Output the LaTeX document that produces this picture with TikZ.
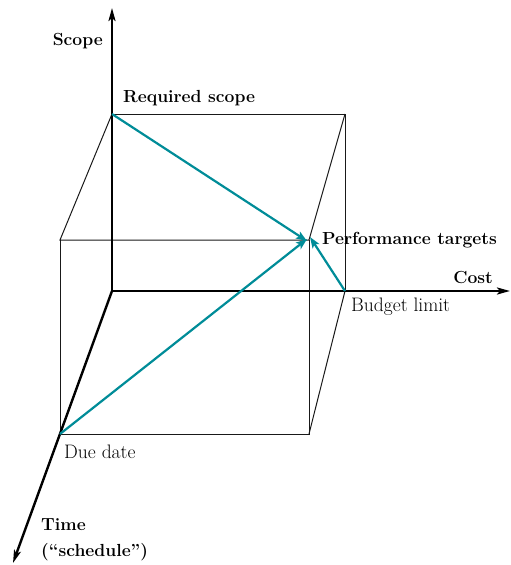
\documentclass[tikz,border=0pt]{standalone}
\usepackage{fontspec}
\usetikzlibrary{arrows.meta}
\definecolor{tealc}{RGB}{0,140,152}
\begin{document}
\begin{tikzpicture}[x=1pt,y=-1pt,
  axis/.style={line width=2.4pt,-{Stealth[length=13pt,width=7pt,inset=3pt]}},
  boxline/.style={line width=1pt,black!90},
  tarrow/.style={line width=2.2pt,tealc,-{Stealth[length=11pt,width=8pt,inset=2.5pt]}},
  lbl/.style={inner sep=0pt,font=\fontsize{19.5}{23}\selectfont},
  blbl/.style={inner sep=0pt,font=\fontsize{17.5}{26}\selectfont\bfseries}]
\useasboundingbox (0,0) rectangle (511,565);
% points
\coordinate (O) at (112,291);
\coordinate (S) at (112,114);
\coordinate (B) at (345,291);
\coordinate (D) at (60,434);
\coordinate (BT) at (345,114);
\coordinate (FT) at (60,240);
\coordinate (P) at (309,240);
\coordinate (PB) at (309,434);
\coordinate (ST) at (112,8);
\coordinate (CT) at (510,291);
\coordinate (TT) at (13,563);
% box
\draw[boxline] (S) -- (BT) -- (B);
\draw[boxline] (S) -- (FT) -- (P) -- (BT);
\draw[boxline] (FT) -- (D) -- (PB) -- (P);
\draw[boxline] (PB) -- (B);
% axes
\draw[axis] (O) -- (ST);
\draw[axis] (O) -- (CT);
\draw[axis] (O) -- (TT);
% teal arrows
\draw[tarrow] (S) -- ([xshift=-2pt,yshift=-1pt]P);
\draw[tarrow] (D) -- ([xshift=-2pt,yshift=1pt]P);
\draw[tarrow] (B) -- ([xshift=1pt,yshift=3pt]P);
% labels
\node[blbl,anchor=east] (lscope) at (103,41) {Scope};
\node[blbl,anchor=west] (lreq) at (123,98) {Required scope};
\node[blbl,anchor=west] (lperf) at (322,240) {Performance targets};
\node[blbl,anchor=east] (lcost) at (493,277) {Cost};
\node[lbl,anchor=west] (lbud) at (351,307) {Budget limit};
\node[lbl,anchor=west] (ldue) at (64,452) {Due date};
\node[blbl,anchor=west,align=left] (ltime) at (41,540) {Time\\(``schedule'')};
\end{tikzpicture}
\end{document}
